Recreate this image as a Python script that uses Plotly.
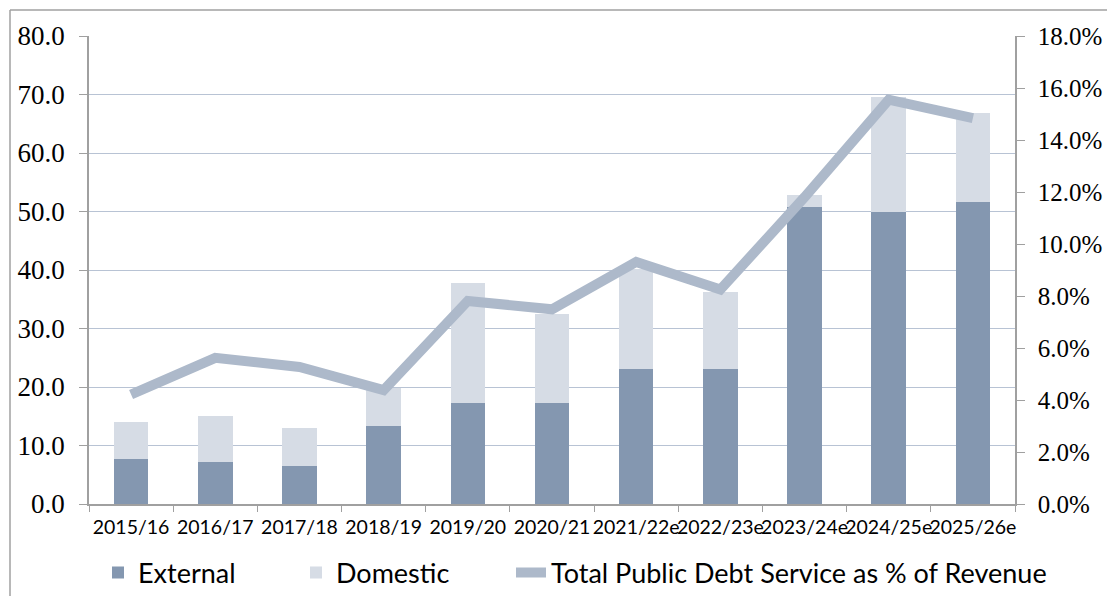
import plotly.graph_objects as go

categories = ["2015/16", "2016/17", "2017/18", "2018/19", "2019/20", "2020/21",
              "2021/22e", "2022/23e", "2023/24e", "2024/25e", "2025/26e"]
external = [7.7, 7.1, 6.5, 13.4, 17.2, 17.2, 23.1, 23.1, 50.8, 50.0, 51.6]
total = [14.1, 15.0, 13.0, 19.8, 37.8, 32.4, 40.2, 36.3, 52.9, 69.6, 66.8]
domestic = [round(t - e, 1) for t, e in zip(total, external)]
debt_pct = [0.0421, 0.0562, 0.0527, 0.0438, 0.0781, 0.0749, 0.0931, 0.0825, 0.118, 0.1555, 0.1484]

C_EXT = "#8497B0"
C_DOM = "#D6DCE5"
C_LINE = "#ADB9CA"
GRID = "#B8C3D4"
AXIS = "#A0A0A0"

W, H = 1107, 596
L, R, T, B = 89, 92, 36, 92
pw, ph = W - L - R, H - T - B

fig = go.Figure()
fig.add_trace(go.Bar(x=categories, y=external, name="External", marker=dict(color=C_EXT, line=dict(width=0)),
                     legend="legend"))
fig.add_trace(go.Bar(x=categories, y=domestic, name="Domestic", marker=dict(color=C_DOM, line=dict(width=0)),
                     legend="legend2"))
fig.add_trace(go.Scatter(x=categories, y=debt_pct, name="Total Public Debt Service as % of Revenue",
                         mode="lines", line=dict(color=C_LINE, width=10), yaxis="y2", legend="legend3"))

def px_x(p):
    return (p - L) / pw

def px_y(p):
    return (H - B - p) / ph

leg_font = dict(family="Lato", size=27, color="black")
leg_common = dict(orientation="h", font=leg_font, bgcolor="rgba(0,0,0,0)", yanchor="middle", xanchor="left",
                  y=px_y(573), itemclick=False, itemdoubleclick=False)

fig.update_layout(
    width=W, height=H,
    margin=dict(l=L, r=R, t=T, b=B, autoexpand=False),
    paper_bgcolor="white", plot_bgcolor="white",
    barmode="stack", bargap=0.59,
    showlegend=True,
    legend=dict(x=px_x(98), **leg_common),
    legend2=dict(x=px_x(296), **leg_common),
    legend3=dict(x=px_x(511), **leg_common),
    xaxis=dict(type="category", showline=True, linecolor=AXIS, linewidth=1.5, ticks="outside",
               tickson="boundaries", ticklen=6, tickcolor=AXIS, showgrid=False, automargin=False,
               tickfont=dict(family="Lato", size=19.5, color="black"), tickangle=0, ticklabelstandoff=5),
    yaxis=dict(range=[0, 80], dtick=10, tickformat=".1f", showline=True, linecolor=AXIS, linewidth=1.5,
               ticks="outside", ticklen=8, tickcolor=AXIS, gridcolor=GRID, gridwidth=1.2, zeroline=False,
               automargin=False,
               tickfont=dict(family="Liberation Serif", size=27, color="black"), ticklabelstandoff=9),
    yaxis2=dict(range=[0, 0.18], dtick=0.02, tickformat=".1%", overlaying="y", side="right", showline=True,
                linecolor=AXIS, linewidth=1.5, ticks="outside", ticklen=8, tickcolor=AXIS, showgrid=False,
                zeroline=False, automargin=False,
                tickfont=dict(family="Liberation Serif", size=25, color="black"),
                ticklabelstandoff=8),
    shapes=[
        dict(type="line", xref="paper", yref="paper", x0=px_x(10), x1=px_x(W + 5), y0=px_y(10), y1=px_y(10),
             line=dict(color=AXIS, width=1.5)),
        dict(type="line", xref="paper", yref="paper", x0=px_x(10), x1=px_x(10), y0=px_y(10), y1=px_y(H + 5),
             line=dict(color=AXIS, width=1.5)),
    ],
)

fig.write_html("out.html", config={"displayModeBar": False},
               post_script="document.body.style.margin='0';document.body.style.overflow='hidden';")
